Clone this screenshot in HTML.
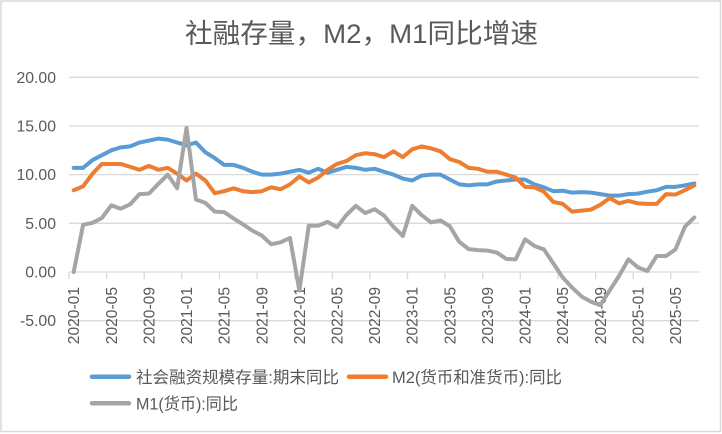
<!DOCTYPE html>
<html>
<head>
<meta charset="utf-8">
<style>
html,body{margin:0;padding:0;background:#fff;}
body{width:722px;height:434px;overflow:hidden;}
svg{display:block;}
text{font-family:"Liberation Sans","Noto Sans CJK SC",sans-serif;fill:#595959;}
</style>
</head>
<body>
<svg width="722" height="434" viewBox="0 0 722 434" xmlns="http://www.w3.org/2000/svg">
<rect x="0" y="0" width="722" height="434" fill="#fff"/>
<rect x="1" y="1" width="719.5" height="430.5" fill="#fff" stroke="#D9D9D9" stroke-width="1.5"/>

<!-- title -->
<text x="185" y="43" font-size="27" textLength="353" lengthAdjust="spacingAndGlyphs">社融存量，M2，M1同比增速</text>

<!-- gridlines -->
<g stroke="#D9D9D9" stroke-width="1.3">
<line x1="69" y1="77.3" x2="699" y2="77.3"/>
<line x1="69" y1="126" x2="699" y2="126"/>
<line x1="69" y1="174.65" x2="699" y2="174.65"/>
<line x1="69" y1="223.3" x2="699" y2="223.3"/>
<line x1="69" y1="272" x2="699" y2="272"/>
<line x1="69" y1="320.7" x2="699" y2="320.7"/>
</g>
<!-- ticks -->
<g stroke="#D9D9D9" stroke-width="1.3">
<line x1="69" y1="272" x2="69" y2="279"/>
<line x1="106.6" y1="272" x2="106.6" y2="279"/>
<line x1="144.2" y1="272" x2="144.2" y2="279"/>
<line x1="181.8" y1="272" x2="181.8" y2="279"/>
<line x1="219.4" y1="272" x2="219.4" y2="279"/>
<line x1="257.1" y1="272" x2="257.1" y2="279"/>
<line x1="294.7" y1="272" x2="294.7" y2="279"/>
<line x1="332.3" y1="272" x2="332.3" y2="279"/>
<line x1="369.9" y1="272" x2="369.9" y2="279"/>
<line x1="407.5" y1="272" x2="407.5" y2="279"/>
<line x1="445.1" y1="272" x2="445.1" y2="279"/>
<line x1="482.7" y1="272" x2="482.7" y2="279"/>
<line x1="520.3" y1="272" x2="520.3" y2="279"/>
<line x1="557.9" y1="272" x2="557.9" y2="279"/>
<line x1="595.6" y1="272" x2="595.6" y2="279"/>
<line x1="633.2" y1="272" x2="633.2" y2="279"/>
<line x1="670.8" y1="272" x2="670.8" y2="279"/>
</g>

<!-- y labels -->
<g font-size="15.8" text-anchor="end">
<text x="56" y="82.8">20.00</text>
<text x="56" y="131.5">15.00</text>
<text x="56" y="180.2">10.00</text>
<text x="56" y="228.8">5.00</text>
<text x="56" y="277.5">0.00</text>
<text x="56" y="326.2">-5.00</text>
</g>

<!-- x labels -->
<g font-size="15.6" text-anchor="end">
<text transform="translate(79.2,287) rotate(-90)">2020-01</text>
<text transform="translate(116.8,287) rotate(-90)">2020-05</text>
<text transform="translate(154.4,287) rotate(-90)">2020-09</text>
<text transform="translate(192,287) rotate(-90)">2021-01</text>
<text transform="translate(229.6,287) rotate(-90)">2021-05</text>
<text transform="translate(267.3,287) rotate(-90)">2021-09</text>
<text transform="translate(304.9,287) rotate(-90)">2022-01</text>
<text transform="translate(342.5,287) rotate(-90)">2022-05</text>
<text transform="translate(380.1,287) rotate(-90)">2022-09</text>
<text transform="translate(417.7,287) rotate(-90)">2023-01</text>
<text transform="translate(455.3,287) rotate(-90)">2023-05</text>
<text transform="translate(492.9,287) rotate(-90)">2023-09</text>
<text transform="translate(530.5,287) rotate(-90)">2024-01</text>
<text transform="translate(568.1,287) rotate(-90)">2024-05</text>
<text transform="translate(605.8,287) rotate(-90)">2024-09</text>
<text transform="translate(643.4,287) rotate(-90)">2025-01</text>
<text transform="translate(681,287) rotate(-90)">2025-05</text>
</g>

<!-- series -->
<g transform="translate(73.7,272) scale(9.403,-9.735)" fill="none" stroke-linejoin="round" stroke-linecap="round">
<polyline vector-effect="non-scaling-stroke" stroke="#5B9BD5" stroke-width="4" points="0,10.7 1,10.7 2,11.5 3,12.0 4,12.5 5,12.8 6,12.9 7,13.3 8,13.5 9,13.7 10,13.6 11,13.3 12,13.0 13,13.3 14,12.3 15,11.7 16,11.0 17,11.0 18,10.7 19,10.3 20,10.0 21,10.0 22,10.1 23,10.3 24,10.5 25,10.2 26,10.6 27,10.2 28,10.5 29,10.8 30,10.7 31,10.5 32,10.6 33,10.3 34,10.0 35,9.6 36,9.4 37,9.9 38,10.0 39,10.0 40,9.5 41,9.0 42,8.9 43,9.0 44,9.0 45,9.3 46,9.4 47,9.5 48,9.5 49,9.0 50,8.7 51,8.3 52,8.35 53,8.15 54,8.2 55,8.15 56,8.0 57,7.85 58,7.85 59,8.0 60,8.05 61,8.25 62,8.4 63,8.75 64,8.75 65,8.9 66,9.1"/>
<polyline vector-effect="non-scaling-stroke" stroke="#ED7D31" stroke-width="4" points="0,8.4 1,8.8 2,10.1 3,11.1 4,11.1 5,11.1 6,10.8 7,10.5 8,10.9 9,10.5 10,10.7 11,10.1 12,9.4 13,10.1 14,9.4 15,8.1 16,8.3 17,8.6 18,8.3 19,8.2 20,8.3 21,8.7 22,8.5 23,9.0 24,9.8 25,9.2 26,9.7 27,10.5 28,11.1 29,11.4 30,12.0 31,12.2 32,12.1 33,11.8 34,12.4 35,11.8 36,12.6 37,12.9 38,12.7 39,12.4 40,11.6 41,11.3 42,10.7 43,10.6 44,10.3 45,10.3 46,10.0 47,9.7 48,8.75 49,8.7 50,8.25 51,7.2 52,7.0 53,6.2 54,6.3 55,6.4 56,6.9 57,7.6 58,7.05 59,7.3 60,7.05 61,7.0 62,7.0 63,8.0 64,7.95 65,8.4 66,8.9"/>
<polyline vector-effect="non-scaling-stroke" stroke="#A5A5A5" stroke-width="4" points="0,0 1,4.85 2,5.05 3,5.55 4,6.85 5,6.5 6,6.95 7,8.0 8,8.05 9,9.05 10,10.0 11,8.6 12,14.8 13,7.45 14,7.1 15,6.2 16,6.15 17,5.5 18,4.9 19,4.25 20,3.75 21,2.85 22,3.05 23,3.5 24,-1.9 25,4.75 26,4.75 27,5.15 28,4.6 29,5.85 30,6.8 31,6.05 32,6.45 33,5.8 34,4.65 35,3.7 36,6.8 37,5.85 38,5.1 39,5.3 40,4.7 41,3.1 42,2.35 43,2.25 44,2.2 45,2.0 46,1.35 47,1.3 48,3.36 49,2.67 50,2.33 51,0.9 52,-0.55 53,-1.6 54,-2.5 55,-3.05 56,-3.4 57,-1.9 58,-0.4 59,1.3 60,0.48 61,0.1 62,1.64 63,1.64 64,2.33 65,4.65 66,5.6"/>
</g>

<!-- legend -->
<g stroke-width="4.5" stroke-linecap="round">
<line x1="92" y1="376.7" x2="129" y2="376.7" stroke="#5B9BD5"/>
<line x1="349" y1="376.7" x2="386" y2="376.7" stroke="#ED7D31"/>
<line x1="92" y1="403.3" x2="129" y2="403.3" stroke="#A5A5A5"/>
</g>
<g font-size="16.5">
<text x="136" y="382.8" textLength="203" lengthAdjust="spacingAndGlyphs">社会融资规模存量:期末同比</text>
<text x="392" y="382.8" textLength="170" lengthAdjust="spacingAndGlyphs">M2(货币和准货币):同比</text>
<text x="136" y="409.6" textLength="102" lengthAdjust="spacingAndGlyphs">M1(货币):同比</text>
</g>
</svg>
</body>
</html>
